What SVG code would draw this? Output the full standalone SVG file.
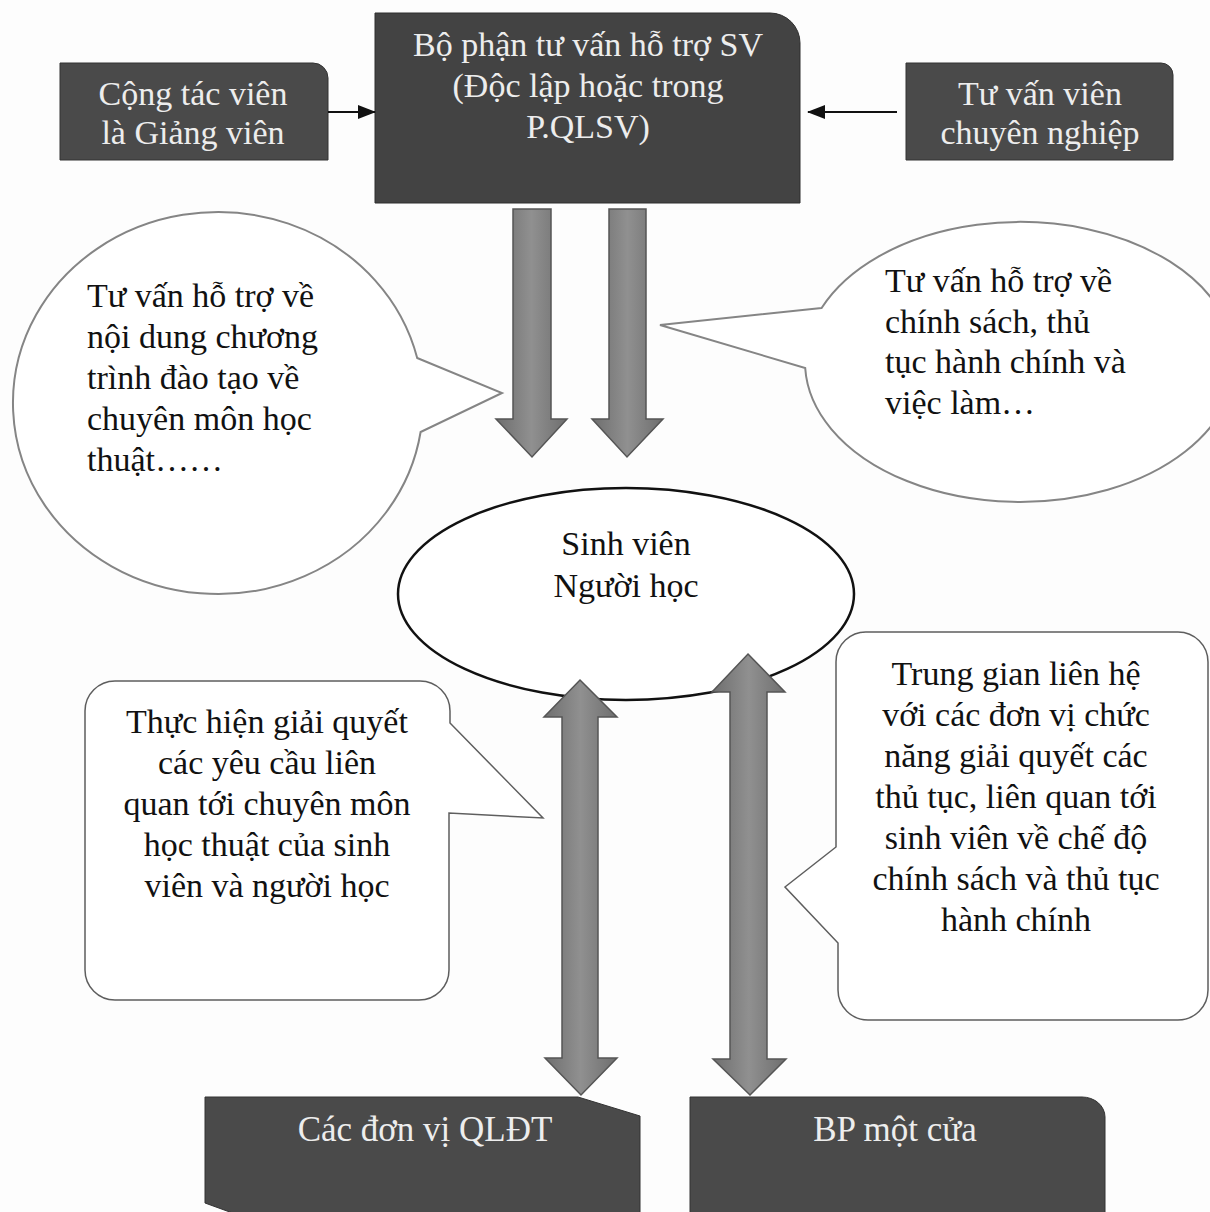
<svg xmlns="http://www.w3.org/2000/svg" width="1210" height="1212" viewBox="0 0 1210 1212">
<style>
.dark{fill:#4a4a4a;stroke:#333;stroke-width:1}
.darker{fill:#434343;stroke:#2e2e2e;stroke-width:1}
.lt{font-family:"Liberation Serif","Times New Roman",serif;font-size:34px;fill:#ededed;text-anchor:middle}
.bt{font-family:"Liberation Serif","Times New Roman",serif;font-size:34px;fill:#111}
.mid{text-anchor:middle}
.bubble{fill:#fff;stroke:#858585;stroke-width:2}
.callout{fill:#fff;stroke:#5e5e5e;stroke-width:1.5}
.block{fill:url(#g);stroke:#555;stroke-width:1.5}
.conn{stroke:#111;stroke-width:2;fill:none}
</style>
<defs>
<linearGradient id="g" x1="0" y1="0" x2="1" y2="0">
<stop offset="0" stop-color="#6e6e6e"/>
<stop offset="0.5" stop-color="#909090"/>
<stop offset="1" stop-color="#6e6e6e"/>
</linearGradient>
<marker id="ah" markerUnits="userSpaceOnUse" markerWidth="18" markerHeight="14" refX="17" refY="7" orient="auto">
<path d="M0,0 L18,7 L0,14 Z" fill="#111"/>
</marker>
</defs>
<rect width="1210" height="1212" fill="#fdfdfd"/>

<g id="ctv">
<path class="dark" d="M60,63 H313 A15,15 0 0 1 328,78 V160 H60 Z"/>
<text class="lt" x="193" y="105">Cộng tác viên</text>
<text class="lt" x="193" y="144">là Giảng viên</text>
</g>

<g id="bophan">
<path class="darker" d="M375,13 H770 A30,30 0 0 1 800,43 V203 H375 Z"/>
<text class="lt" x="588" y="56">Bộ phận tư vấn hỗ trợ SV</text>
<text class="lt" x="588" y="97">(Độc lập hoặc trong</text>
<text class="lt" x="588" y="138">P.QLSV)</text>
</g>

<g id="tuvanvien">
<path class="dark" d="M906,63 H1161 A12,12 0 0 1 1173,75 V160 H906 Z"/>
<text class="lt" x="1040" y="105">Tư vấn viên</text>
<text class="lt" x="1040" y="144">chuyên nghiệp</text>
</g>

<g id="bubble-left">
<path class="bubble" d="M417.2,358 L502,393 L420.6,432 A205,191 0 1 1 417.2,358 Z"/>
<text class="bt" x="87" y="307">Tư vấn hỗ trợ về</text>
<text class="bt" x="87" y="348">nội dung chương</text>
<text class="bt" x="87" y="389">trình đào tạo về</text>
<text class="bt" x="87" y="430">chuyên môn học</text>
<text class="bt" x="87" y="471">thuật……</text>
</g>

<g id="bubble-right">
<path class="bubble" d="M821.6,308 L660,325 L805.2,368 A215,140 0 1 0 821.6,308 Z"/>
<text class="bt" x="885" y="292">Tư vấn hỗ trợ về</text>
<text class="bt" x="885" y="333">chính sách, thủ</text>
<text class="bt" x="885" y="373">tục hành chính và</text>
<text class="bt" x="885" y="414">việc làm…</text>
</g>

<g id="sinhvien">
<ellipse cx="626" cy="594" rx="228" ry="106" fill="#fff" stroke="#111" stroke-width="2.5"/>
<text class="bt mid" x="626" y="555">Sinh viên</text>
<text class="bt mid" x="626" y="597">Người học</text>
</g>

<g id="callout-left">
<path class="callout" d="M115,681 H420 A30,30 0 0 1 450,711 V723 L543,818 L449,813 V970 A30,30 0 0 1 419,1000 H115 A30,30 0 0 1 85,970 V711 A30,30 0 0 1 115,681 Z"/>
<text class="bt mid" x="267" y="733">Thực hiện giải quyết</text>
<text class="bt mid" x="267" y="774">các yêu cầu liên</text>
<text class="bt mid" x="267" y="815">quan tới chuyên môn</text>
<text class="bt mid" x="267" y="856">học thuật của sinh</text>
<text class="bt mid" x="267" y="897">viên và người học</text>
</g>

<g id="callout-right">
<path class="callout" d="M868,632 H1178 A30,30 0 0 1 1208,662 V990 A30,30 0 0 1 1178,1020 H868 A30,30 0 0 1 838,990 V943 L785,887 L836,847 V662 A30,30 0 0 1 868,632 Z"/>
<text class="bt mid" x="1016" y="685">Trung gian liên hệ</text>
<text class="bt mid" x="1016" y="726">với các đơn vị chức</text>
<text class="bt mid" x="1016" y="767">năng giải quyết các</text>
<text class="bt mid" x="1016" y="808">thủ tục, liên quan tới</text>
<text class="bt mid" x="1016" y="849">sinh viên về chế độ</text>
<text class="bt mid" x="1016" y="890">chính sách và thủ tục</text>
<text class="bt mid" x="1016" y="931">hành chính</text>
</g>

<g id="qldt">
<path class="dark" d="M205,1097 H578 L640,1116 V1215 H238 L205,1203 Z"/>
<text class="lt" x="425" y="1141" style="font-size:35px">Các đơn vị QLĐT</text>
</g>

<g id="motcua">
<path class="dark" d="M690,1097 H1082 A23,20 0 0 1 1105,1117 V1215 H690 Z"/>
<text class="lt" x="895" y="1141" style="font-size:35px">BP một cửa</text>
</g>

<g id="connectors">
<line class="conn" x1="328" y1="112" x2="375" y2="112" marker-end="url(#ah)"/>
<line class="conn" x1="897" y1="112" x2="808" y2="112" marker-end="url(#ah)"/>
<path class="block" d="M513,209 H551 V419 H567 L532,457 L496,419 H513 Z"/>
<path class="block" d="M609,209 H646 V419 H663 L627,457 L592,419 H609 Z"/>
<path class="block" d="M580,680 L617,717 H598 V1058 H617 L581,1095 L545,1058 H562 V717 H544 Z"/>
<path class="block" d="M748,654 L785,692 H767 V1059 H786 L750,1095 L713,1059 H730 V692 H712 Z"/>
</g>
</svg>
